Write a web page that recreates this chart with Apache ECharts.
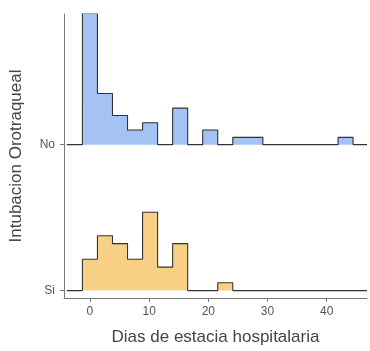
<!DOCTYPE html>
<html>
<head>
<meta charset="utf-8">
<script src="https://cdn.jsdelivr.net/npm/echarts@6/dist/echarts.min.js"></script>
<style>
html,body{margin:0;padding:0;background:#fff;}
#chart{width:370px;height:351px;}
</style>
</head>
<body>
<div id="chart"></div>
<script>
// Histogram bins (days of hospital stay), bin width and first edge
const binStart = -1.27;
const binWidth = 2.54;
// Counts per bin for each group
const groups = ["Si", "No"];
const countsNo = [18, 7, 4, 2, 3, 0, 5, 0, 2, 0, 1, 1, 0, 0, 0, 0, 0, 1];
const countsSi = [4, 7, 6, 4, 10, 3, 6, 0, 0, 1, 0, 0, 0, 0, 0, 0, 0, 0];
const xTicks = [0, 10, 20, 30, 40];

const xMin = -4.38, xMax = 46.8;
const lineStart = -3.9;
const ridgeScale = 0.9;

function total(a){return a.reduce((s,v)=>s+v,0);}
const maxDens = Math.max(
  Math.max(...countsNo)/total(countsNo),
  Math.max(...countsSi)/total(countsSi)
);

function stepPoints(counts, base){
  const n = total(counts);
  const pts = [[lineStart, base]];
  let prev = 0;
  counts.forEach((c, i) => {
    const h = c / n / maxDens * ridgeScale;
    const e0 = binStart + i * binWidth;
    const e1 = e0 + binWidth;
    pts.push([e0, base + prev]);
    pts.push([e0, base + h]);
    pts.push([e1, base + h]);
    prev = h;
  });
  const last = binStart + counts.length * binWidth;
  pts.push([last, base]);
  pts.push([xMax, base]);
  return pts;
}

const chart = echarts.init(document.getElementById('chart'), null, {renderer:'canvas'});
const axisGrey = '#7a7a7a';
const labelGrey = '#555555';
const font = 'Liberation Sans, Arial, sans-serif';

chart.setOption({
  animation: false,
  backgroundColor: '#ffffff',
  grid: {left: 63, right: 3, top: 14, bottom: 49, containLabel: false},
  xAxis: {
    type: 'value', min: xMin, max: xMax,
    name: 'Dias de estacia hospitalaria', nameLocation: 'middle', nameGap: 31,
    nameTextStyle: {fontFamily: font, fontSize: 17, color: '#444'},
    axisLine: {show: true, onZero: false, lineStyle: {color: axisGrey, width: 1}},
    axisTick: {show: true, length: 4, customValues: xTicks, lineStyle: {color: axisGrey}},
    axisLabel: {customValues: xTicks, margin: 8, fontFamily: font, fontSize: 12, color: labelGrey},
    splitLine: {show: false}
  },
  yAxis: {
    type: 'value', min: -0.0507, max: 1.895,
    name: 'Intubacion Orotraqueal', nameLocation: 'middle', nameGap: 39,
    nameTextStyle: {fontFamily: font, fontSize: 17, color: '#444'},
    axisLine: {show: true, onZero: false, lineStyle: {color: axisGrey, width: 1}},
    axisTick: {show: true, length: 4, customValues: [0, 1], lineStyle: {color: axisGrey}},
    axisLabel: {customValues: [0, 1], margin: 9, fontFamily: font, fontSize: 12, color: labelGrey,
      formatter: v => groups[Math.round(v)]},
    splitLine: {show: false}
  },
  series: [
    {
      type: 'line', name: 'No', data: stepPoints(countsNo, 1), symbol: 'none',
      lineStyle: {color: '#333333', width: 1.1},
      areaStyle: {color: '#a4c2f4', opacity: 1, origin: 1}
    },
    {
      type: 'line', name: 'Si', data: stepPoints(countsSi, 0), symbol: 'none',
      lineStyle: {color: '#333333', width: 1.1},
      areaStyle: {color: '#f7cf85', opacity: 1, origin: 0}
    }
  ]
});
</script>
</body>
</html>
